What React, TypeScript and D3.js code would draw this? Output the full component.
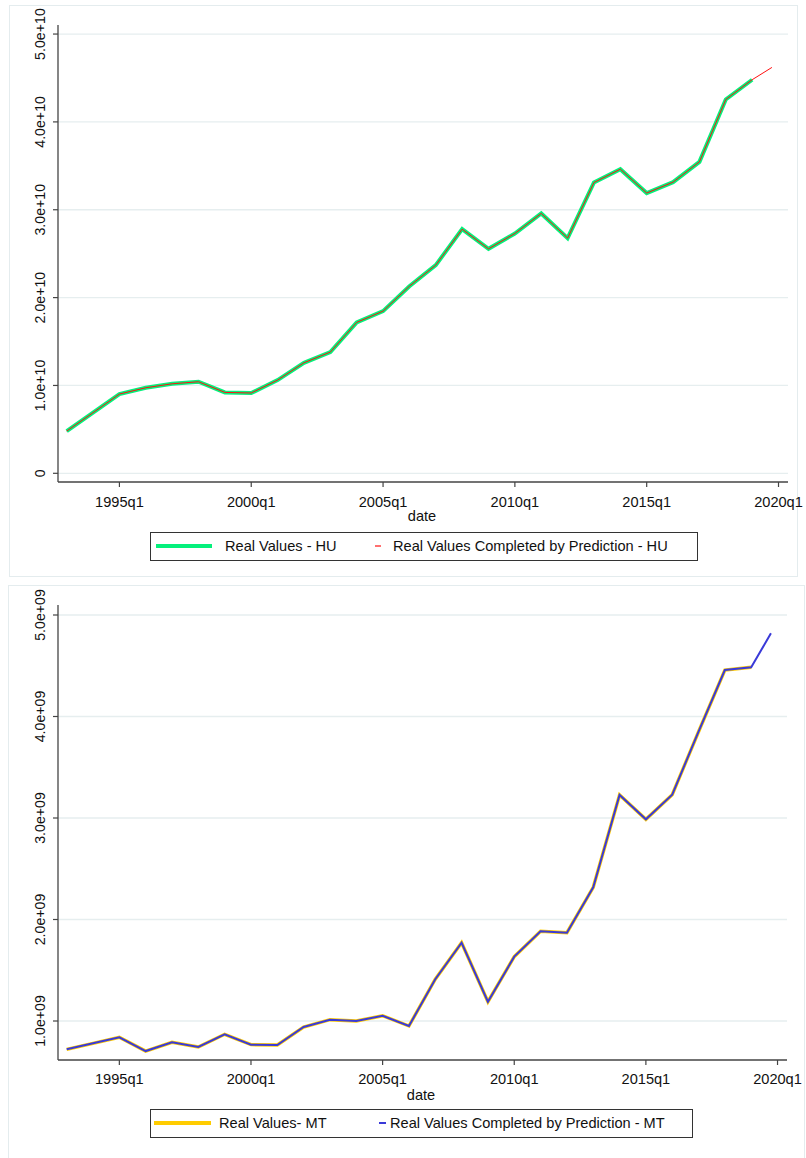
import React from "react";
import * as d3 from "d3";

// ---- Data ----
const years = [
  1993, 1994, 1995, 1996, 1997, 1998, 1999, 2000, 2001, 2002, 2003, 2004, 2005,
  2006, 2007, 2008, 2009, 2010, 2011, 2012, 2013, 2014, 2015, 2016, 2017, 2018, 2019,
];
const predictionDate = 2019.75; // 2019q4

const huReal = [
  0.481e10, 0.69e10, 0.902e10, 0.974e10, 1.019e10, 1.042e10, 0.921e10, 0.914e10,
  1.061e10, 1.258e10, 1.38e10, 1.718e10, 1.846e10, 2.13e10, 2.37e10, 2.779e10,
  2.555e10, 2.73e10, 2.958e10, 2.677e10, 3.31e10, 3.462e10, 3.19e10, 3.314e10,
  3.545e10, 4.255e10, 4.48e10,
];
const huPrediction = 4.62e10;

const mtReal = [
  0.721e9, 0.78e9, 0.839e9, 0.704e9, 0.79e9, 0.744e9, 0.869e9, 0.767e9, 0.764e9,
  0.941e9, 1.013e9, 1.0e9, 1.052e9, 0.951e9, 1.411e9, 1.771e9, 1.19e9, 1.634e9,
  1.884e9, 1.87e9, 2.317e9, 3.227e9, 2.987e9, 3.23e9, 3.85e9, 4.458e9, 4.485e9,
];
const mtPrediction = 4.82e9;

const xTickYears = [1995, 2000, 2005, 2010, 2015, 2020];
const huTicks = [0, 1e10, 2e10, 3e10, 4e10, 5e10];
const huTickLabels = ["0", "1.0e+10", "2.0e+10", "3.0e+10", "4.0e+10", "5.0e+10"];
const mtTicks = [1e9, 2e9, 3e9, 4e9, 5e9];
const mtTickLabels = ["1.0e+09", "2.0e+09", "3.0e+09", "4.0e+09", "5.0e+09"];

const FONT = "'Liberation Sans', Arial, Helvetica, sans-serif";
const FS = 14.6;

type ChartProps = {
  frame: { x: number; y: number; w: number; h: number };
  xRange: [number, number];
  yRange: [number, number]; // [bottom, top] pixel
  yDomain: [number, number];
  real: number[];
  prediction: number;
  ticks: number[];
  tickLabels: string[];
  realColor: string;
  realWidth: number;
  predColor: string;
  predWidth: number;
  xLabelBaseline: number;
  dateBaseline: number;
  dateX: number;
  legend: {
    x: number; y: number; w: number; h: number;
    sample1: [number, number]; text1X: number; label1: string;
    sample2: [number, number]; text2X: number; label2: string;
    sampleY: number; textBaseline: number;
    s1Width: number; s2Width: number;
  };
};

function Chart(p: ChartProps) {
  const x = d3.scaleLinear().domain([1992.67, 2020.36]).range(p.xRange);
  const y = d3.scaleLinear().domain(p.yDomain).range(p.yRange);
  const realData = years.map((yr, i) => [yr, p.real[i]] as [number, number]);
  const fullData = [...realData, [predictionDate, p.prediction] as [number, number]];
  const line = d3
    .line<[number, number]>()
    .x((d) => x(d[0]))
    .y((d) => y(d[1]));
  const [x0, x1] = p.xRange;
  const [yb, yt] = p.yRange;
  return (
    <g>
      <rect
        x={p.frame.x + 0.5}
        y={p.frame.y + 0.5}
        width={p.frame.w}
        height={p.frame.h}
        fill="white"
        stroke="#e4ecee"
        strokeWidth={1}
      />
      {p.ticks.map((t) => (
        <line key={"g" + t} x1={x0} x2={x1} y1={y(t)} y2={y(t)} stroke="#e6eeef" strokeWidth={1.3} />
      ))}
      <path d={line(realData) || ""} fill="none" stroke={p.realColor} strokeWidth={p.realWidth} strokeLinejoin="miter" />
      <path d={line(fullData) || ""} fill="none" stroke={p.predColor} strokeWidth={p.predWidth} strokeLinejoin="miter" />
      <line x1={x0} x2={x0} y1={yt} y2={yb} stroke="#444" strokeWidth={1.3} />
      <line x1={x0} x2={x1} y1={yb} y2={yb} stroke="#444" strokeWidth={1.3} />
      {p.ticks.map((t, i) => (
        <g key={"yt" + t}>
          <line x1={x0 - 5} x2={x0} y1={y(t)} y2={y(t)} stroke="#444" strokeWidth={1.2} />
          <text
            transform={`translate(${x0 - 13},${y(t)}) rotate(-90)`}
            textAnchor="middle"
            fontFamily={FONT}
            fontSize={14.2}
            fill="#111"
          >
            {p.tickLabels[i]}
          </text>
        </g>
      ))}
      {xTickYears.map((yr) => (
        <g key={"xt" + yr}>
          <line x1={x(yr)} x2={x(yr)} y1={yb} y2={yb + 5} stroke="#444" strokeWidth={1.2} />
          <text x={x(yr)} y={p.xLabelBaseline} textAnchor="middle" fontFamily={FONT} fontSize={FS} fill="#111">
            {yr + "q1"}
          </text>
        </g>
      ))}
      <text x={p.dateX} y={p.dateBaseline} textAnchor="middle" fontFamily={FONT} fontSize={FS} fill="#111">
        date
      </text>
      <rect
        x={p.legend.x + 0.5}
        y={p.legend.y + 0.5}
        width={p.legend.w}
        height={p.legend.h}
        fill="white"
        stroke="#333"
        strokeWidth={1}
      />
      <line
        x1={p.legend.sample1[0]}
        x2={p.legend.sample1[1]}
        y1={p.legend.sampleY}
        y2={p.legend.sampleY}
        stroke={p.realColor}
        strokeWidth={p.legend.s1Width}
      />
      <text x={p.legend.text1X} y={p.legend.textBaseline} fontFamily={FONT} fontSize={FS} fill="#111">
        {p.legend.label1}
      </text>
      <line
        x1={p.legend.sample2[0]}
        x2={p.legend.sample2[1]}
        y1={p.legend.sampleY}
        y2={p.legend.sampleY}
        stroke={p.predColor}
        strokeWidth={p.legend.s2Width}
      />
      <text x={p.legend.text2X} y={p.legend.textBaseline} fontFamily={FONT} fontSize={FS} fill="#111">
        {p.legend.label2}
      </text>
    </g>
  );
}

export default function App() {
  return (
    <svg
      width={806}
      height={1158}
      style={{ position: "absolute", left: 0, top: 0, display: "block", background: "white" }}
    >
      <rect x={0} y={0} width={806} height={1158} fill="white" />
      <Chart
        frame={{ x: 9, y: 5, w: 788, h: 571 }}
        xRange={[58, 788]}
        yRange={[482, 25]}
        yDomain={[-0.099e10, 5.103e10]}
        real={huReal}
        prediction={huPrediction}
        ticks={huTicks}
        tickLabels={huTickLabels}
        realColor="#05f07c"
        realWidth={4}
        predColor="#ff1010"
        predWidth={1}
        xLabelBaseline={507}
        dateBaseline={521}
        dateX={422}
        legend={{
          x: 150, y: 532, w: 547, h: 28,
          sample1: [156, 212], text1X: 225, label1: "Real Values - HU",
          sample2: [375, 381], text2X: 393, label2: "Real Values Completed by Prediction - HU",
          sampleY: 546, textBaseline: 551,
          s1Width: 4, s2Width: 1.2,
        }}
      />
      <Chart
        frame={{ x: 8, y: 585, w: 796, h: 580 }}
        xRange={[58, 787]}
        yRange={[1060, 605]}
        yDomain={[0.6158e9, 5.0985e9]}
        real={mtReal}
        prediction={mtPrediction}
        ticks={mtTicks}
        tickLabels={mtTickLabels}
        realColor="#ffcc00"
        realWidth={3.4}
        predColor="#3a3ad8"
        predWidth={2}
        xLabelBaseline={1084}
        dateBaseline={1100}
        dateX={421}
        legend={{
          x: 150, y: 1109, w: 542, h: 28,
          sample1: [154, 211], text1X: 219, label1: "Real Values- MT",
          sample2: [379, 386], text2X: 390, label2: "Real Values Completed by Prediction - MT",
          sampleY: 1123, textBaseline: 1128,
          s1Width: 4, s2Width: 2,
        }}
      />
    </svg>
  );
}
